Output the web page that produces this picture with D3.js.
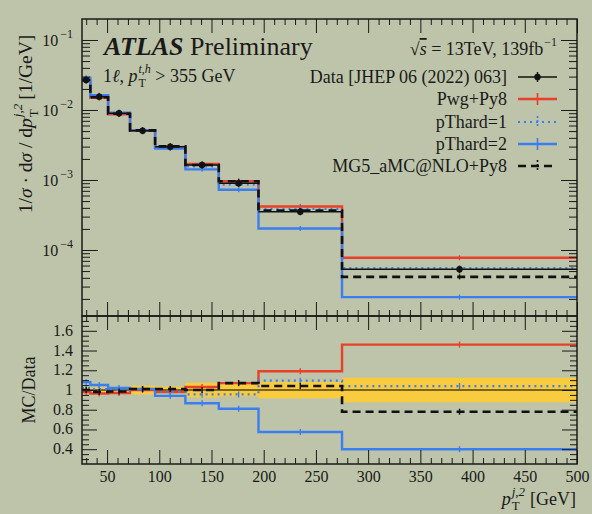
<!DOCTYPE html>
<html><head><meta charset="utf-8">
<script src="https://cdn.jsdelivr.net/npm/d3@7"></script>
<style>
body{margin:0;background:#bdc4a9;}
svg{display:block;}
text{font-family:"Liberation Serif","DejaVu Serif",serif;fill:#1a1a1a;white-space:pre;}
</style>
</head><body><svg id="c" width="592" height="514"></svg>
<script>
// ---------------- data ----------------
const binEdges = [26, 34, 51, 72, 96, 125, 157, 195, 275, 500];
const dataValues = [0.0268, 0.0155, 0.00897, 0.00506, 0.00299, 0.00164, 0.000897, 0.000352, 0.000053];
const dataRelErr = [0.032, 0.025, 0.025, 0.045, 0.035, 0.074, 0.065, 0.085, 0.125];
const ratioPwgPy8 = [0.98, 0.965, 0.97, 1.0, 0.98, 1.03, 1.07, 1.19, 1.46];
const ratioPThard1 = [1.02, 1.01, 1.0, 1.01, 0.98, 0.955, 0.955, 1.095, 1.04];
const ratioPThard2 = [1.08, 1.05, 1.02, 1.01, 0.94, 0.865, 0.81, 0.575, 0.40];
const ratioMG5 = [1.0, 0.98, 0.985, 1.01, 1.01, 1.0, 1.07, 1.04, 0.78];
const xTickLabels = [50, 100, 150, 200, 250, 300, 350, 400, 450, 500];
const ratioTickLabels = [0.4, 0.6, 0.8, 1, 1.2, 1.4, 1.6];
const mainDecades = [1e-4, 1e-3, 1e-2, 1e-1];
const legendLabels = ["Data [JHEP 06 (2022) 063]", "Pwg+Py8", "pThard=1", "pThard=2", "MG5_aMC@NLO+Py8"];

// ---------------- styles ----------------
const RED = "#e8402a", BLUE = "#3b7ef0", GOLD = "#f9cb3e", INK = "#1a1a1a";
const series = [
  {name: legendLabels[1], ratio: ratioPwgPy8, color: RED, dash: null, w: 2.4},
  {name: legendLabels[2], ratio: ratioPThard1, color: BLUE, dash: "2,4", w: 2.2},
  {name: legendLabels[3], ratio: ratioPThard2, color: BLUE, dash: null, w: 2.4},
  {name: legendLabels[4], ratio: ratioMG5, color: "#111", dash: "8,5", w: 2.6}
];

const L = 82, R = 577, T = 19, MB = 316, RB = 464;
const svg = d3.select("#c");

const x = d3.scaleLinear().domain([26, 500]).range([L, R]);
const yMain = d3.scaleLog().domain([Math.pow(10, -4.943), Math.pow(10, -0.7)]).range([MB, T]);
const yRat = d3.scaleLinear().domain([0.25, 1.75]).range([RB, MB]);

const defs = svg.append("defs");
defs.append("clipPath").attr("id", "cm").append("rect").attr("x", L).attr("y", T).attr("width", R - L).attr("height", MB - T);
defs.append("clipPath").attr("id", "cr").append("rect").attr("x", L).attr("y", MB).attr("width", R - L).attr("height", RB - MB);

// ------------- rich text helper -------------
function rich(parent, x0, y0, parts, opts) {
  opts = opts || {};
  const base = opts.size || 16;
  const g = parent.append("g");
  let cx = 0;
  parts.forEach(p => {
    if (p.sup !== undefined || p.sub !== undefined) {
      let w = 0;
      const s = p.size || base * 0.68;
      const x0p = cx + (p.before || 0);
      if (p.sup) {
        const t = g.append("text").attr("x", x0p).attr("y", -base * 0.5).style("font-size", s + "px")
          .style("font-style", p.supItalic ? "italic" : null).text(p.sup);
        w = Math.max(w, t.node().getComputedTextLength());
      }
      if (p.sub) {
        const t = g.append("text").attr("x", x0p).attr("y", base * 0.3).style("font-size", s + "px")
          .style("font-style", p.subItalic ? "italic" : null).text(p.sub);
        w = Math.max(w, t.node().getComputedTextLength());
      }
      cx = x0p + w + (p.after || 0);
    } else {
      const t = g.append("text").attr("x", cx).attr("y", p.dy || 0)
        .style("font-size", (p.size || base) + "px")
        .style("font-style", p.italic ? "italic" : null)
        .style("font-weight", p.bold ? "bold" : null)
        .text(p.t);
      if (p.overline) t.style("text-decoration", "overline");
      cx += t.node().getComputedTextLength() + (p.after || 0);
    }
  });
  const total = cx;
  let shift = 0;
  if (opts.anchor === "end") shift = -total; else if (opts.anchor === "middle") shift = -total / 2;
  if (opts.rotate) g.attr("transform", `translate(${x0},${y0}) rotate(${opts.rotate}) translate(${shift},0)`);
  else g.attr("transform", `translate(${x0 + shift},${y0})`);
  return total;
}

// ------------- ratio panel band -------------
const gR = svg.append("g").attr("clip-path", "url(#cr)");
gR.selectAll("rect.band").data(dataValues).join("rect")
  .attr("x", (d, i) => x(binEdges[i]))
  .attr("width", (d, i) => x(binEdges[i + 1]) - x(binEdges[i]))
  .attr("y", (d, i) => yRat(1 + dataRelErr[i]))
  .attr("height", (d, i) => yRat(1 - dataRelErr[i]) - yRat(1 + dataRelErr[i]))
  .attr("fill", GOLD);

function stepPts(vals) {
  const pts = vals.map((v, i) => [binEdges[i], v]);
  pts.push([binEdges[binEdges.length - 1], vals[vals.length - 1]]);
  return pts;
}
const lineMain = d3.line().x(d => x(d[0])).y(d => yMain(d[1])).curve(d3.curveStepAfter);
const lineRat = d3.line().x(d => x(d[0])).y(d => yRat(d[1])).curve(d3.curveStepAfter);
const centers = binEdges.slice(0, -1).map((e, i) => (e + binEdges[i + 1]) / 2);

gR.append("path").attr("d", lineRat(stepPts(dataValues.map(() => 1))))
  .attr("fill", "none").attr("stroke", "#000").attr("stroke-opacity", 0.5).attr("stroke-width", 2);

// ------------- main panel -------------
const gM = svg.append("g").attr("clip-path", "url(#cm)");

series.forEach(s => {
  const mcVals = dataValues.map((d, i) => d * s.ratio[i]);
  gM.append("path").attr("d", lineMain(stepPts(mcVals)))
    .attr("fill", "none").attr("stroke", s.color).attr("stroke-width", s.w)
    .attr("stroke-dasharray", s.dash);
  gM.selectAll(null).data(mcVals).join("line")
    .attr("x1", (d, i) => x(centers[i])).attr("x2", (d, i) => x(centers[i]))
    .attr("y1", d => yMain(d) - 2.5).attr("y2", d => yMain(d) + 2.5)
    .attr("stroke", s.color).attr("stroke-width", 1.4);
  gR.append("path").attr("d", lineRat(stepPts(s.ratio)))
    .attr("fill", "none").attr("stroke", s.color).attr("stroke-width", s.w)
    .attr("stroke-dasharray", s.dash);
  gR.selectAll(null).data(s.ratio).join("line")
    .attr("x1", (d, i) => x(centers[i])).attr("x2", (d, i) => x(centers[i]))
    .attr("y1", d => yRat(d) - 3).attr("y2", d => yRat(d) + 3)
    .attr("stroke", s.color).attr("stroke-width", 1.4);
});

gM.selectAll("line.dx").data(dataValues).join("line")
  .attr("x1", (d, i) => x(binEdges[i])).attr("x2", (d, i) => x(binEdges[i + 1]))
  .attr("y1", d => yMain(d)).attr("y2", d => yMain(d))
  .attr("stroke", "#111").attr("stroke-width", 1.5);
gM.selectAll("line.dy").data(dataValues).join("line")
  .attr("x1", (d, i) => x(centers[i])).attr("x2", (d, i) => x(centers[i]))
  .attr("y1", (d, i) => Math.min(yMain(d * (1 + dataRelErr[i])), yMain(d) - 3.5))
  .attr("y2", (d, i) => Math.max(yMain(d * (1 - dataRelErr[i])), yMain(d) + 3.5))
  .attr("stroke", "#111").attr("stroke-width", 1.5);
gM.selectAll("circle.dp").data(dataValues).join("circle")
  .attr("cx", (d, i) => x(centers[i])).attr("cy", d => yMain(d)).attr("r", 3.2).attr("fill", "#111");

// ------------- axes -------------
const minorX = d3.range(30, 501, 10).filter(v => v % 50 !== 0);
function styleAxis(g) {
  g.select(".domain").remove();
  g.selectAll(".tick line").attr("stroke", INK).attr("stroke-width", 1);
}
svg.append("g").attr("transform", `translate(0,${MB})`).call(d3.axisBottom(x).tickValues(xTickLabels).tickSize(-14).tickFormat("")).call(styleAxis);
svg.append("g").attr("transform", `translate(0,${MB})`).call(d3.axisBottom(x).tickValues(minorX).tickSize(-6).tickFormat("")).call(styleAxis);
svg.append("g").attr("transform", `translate(0,${T})`).call(d3.axisTop(x).tickValues(xTickLabels).tickSize(-14).tickFormat("")).call(styleAxis);
svg.append("g").attr("transform", `translate(0,${T})`).call(d3.axisTop(x).tickValues(minorX).tickSize(-6).tickFormat("")).call(styleAxis);
svg.append("g").attr("transform", `translate(0,${MB})`).call(d3.axisTop(x).tickValues(xTickLabels).tickSize(-14).tickFormat("")).call(styleAxis);
svg.append("g").attr("transform", `translate(0,${MB})`).call(d3.axisTop(x).tickValues(minorX).tickSize(-6).tickFormat("")).call(styleAxis);
const xb = svg.append("g").attr("transform", `translate(0,${RB})`).call(d3.axisBottom(x).tickValues(xTickLabels).tickSize(-14).tickPadding(7).tickFormat(d3.format("d"))).call(styleAxis);
xb.selectAll("text").style("font-size", "16px").attr("fill", INK).style("font-family", '"Liberation Serif",serif');
svg.append("g").attr("transform", `translate(0,${RB})`).call(d3.axisBottom(x).tickValues(minorX).tickSize(-6).tickFormat("")).call(styleAxis);

const minorY = [];
for (let e = -5; e <= -1; e++) for (let k = 2; k <= 9; k++) {
  const v = k * Math.pow(10, e);
  if (v >= yMain.domain()[0] && v <= yMain.domain()[1]) minorY.push(v);
}
svg.append("g").attr("transform", `translate(${L},0)`).call(d3.axisLeft(yMain).tickValues(mainDecades).tickSize(-16).tickFormat("")).call(styleAxis);
svg.append("g").attr("transform", `translate(${L},0)`).call(d3.axisLeft(yMain).tickValues(minorY).tickSize(-8).tickFormat("")).call(styleAxis);
svg.append("g").attr("transform", `translate(${R},0)`).call(d3.axisRight(yMain).tickValues(mainDecades).tickSize(-16).tickFormat("")).call(styleAxis);
svg.append("g").attr("transform", `translate(${R},0)`).call(d3.axisRight(yMain).tickValues(minorY).tickSize(-8).tickFormat("")).call(styleAxis);
mainDecades.forEach(v => {
  const e = Math.round(Math.log10(v));
  rich(svg, 73, yMain(v) + 6, [{t: "10"}, {sup: "\u2212" + (-e), size: 12, before: 2}], {size: 16, anchor: "end"});
});

const minorR = d3.range(0.3, 1.75, 0.05).map(v => +v.toFixed(2)).filter(v => Math.abs(v * 5 - Math.round(v * 5)) > 1e-6);
svg.append("g").attr("transform", `translate(${L},0)`).call(d3.axisLeft(yRat).tickValues(ratioTickLabels).tickSize(-15).tickFormat("")).call(styleAxis);
svg.append("g").attr("transform", `translate(${L},0)`).call(d3.axisLeft(yRat).tickValues(minorR).tickSize(-7).tickFormat("")).call(styleAxis);
svg.append("g").attr("transform", `translate(${R},0)`).call(d3.axisRight(yRat).tickValues(ratioTickLabels).tickSize(-15).tickFormat("")).call(styleAxis);
svg.append("g").attr("transform", `translate(${R},0)`).call(d3.axisRight(yRat).tickValues(minorR).tickSize(-7).tickFormat("")).call(styleAxis);
svg.append("g").selectAll("text").data(ratioTickLabels).join("text")
  .attr("x", 73).attr("y", d => yRat(d) + 5).attr("text-anchor", "end").style("font-size", "16px")
  .text(d => d3.format("~g")(d));

svg.append("rect").attr("x", L).attr("y", T).attr("width", R - L).attr("height", MB - T).attr("fill", "none").attr("stroke", INK).attr("stroke-width", 1.5);
svg.append("rect").attr("x", L).attr("y", MB).attr("width", R - L).attr("height", RB - MB).attr("fill", "none").attr("stroke", INK).attr("stroke-width", 1.5);

// ------------- texts -------------
rich(svg, 104, 55, [{t: "ATLAS", bold: true, italic: true}, {t: "\u00a0Preliminary"}], {size: 26});
rich(svg, 103, 82, [{t: "1"}, {t: "\u2113", italic: true}, {t: ",\u00a0"}, {t: "p", italic: true, after: 1}, {sup: "t,h", sub: "T", supItalic: true, size: 12}, {t: "\u00a0>\u00a0355\u00a0GeV"}], {size: 18});
rich(svg, 557, 55, [{t: "\u221a"}, {t: "s", italic: true, overline: true}, {t: "\u00a0=\u00a013TeV,\u00a0139fb"}, {sup: "\u22121", size: 12, before: 1}], {size: 18, anchor: "end"});

rich(svg, 32, 124, [{t: "1/"}, {t: "\u03c3", italic: true}, {t: "\u00a0\u00b7\u00a0d"}, {t: "\u03c3", italic: true}, {t: "\u00a0/\u00a0d"}, {t: "p", italic: true, after: 1}, {sup: "j,2", sub: "T", supItalic: true, size: 13, after: 4}, {t: "[1/GeV]"}], {size: 19.5, anchor: "middle", rotate: -90});
rich(svg, 35, 390, [{t: "MC/Data"}], {size: 18, anchor: "middle", rotate: -90});
rich(svg, 576, 505, [{t: "p", italic: true, after: 1}, {sup: "j,2", sub: "T", supItalic: true, size: 13, after: 5}, {t: "[GeV]"}], {size: 18, anchor: "end"});

// ------------- legend -------------
const legRows = [77, 99, 122, 144, 166];
const lx1 = 518, lx2 = 557, lxc = 537.5;
const leg = svg.append("g");
legendLabels.forEach((lab, i) => {
  rich(leg, 507, legRows[i] + 6, [{t: lab}], {size: 18, anchor: "end"});
});
leg.append("line").attr("x1", lx1).attr("x2", lx2).attr("y1", legRows[0]).attr("y2", legRows[0]).attr("stroke", "#111").attr("stroke-width", 1.5);
leg.append("line").attr("x1", lxc).attr("x2", lxc).attr("y1", legRows[0] - 5).attr("y2", legRows[0] + 5).attr("stroke", "#111").attr("stroke-width", 1.5);
leg.append("circle").attr("cx", lxc).attr("cy", legRows[0]).attr("r", 3.2).attr("fill", "#111");
series.forEach((s, i) => {
  const yy = legRows[i + 1];
  leg.append("line").attr("x1", lx1).attr("x2", lx2).attr("y1", yy).attr("y2", yy)
    .attr("stroke", s.color).attr("stroke-width", s.w).attr("stroke-dasharray", s.dash);
  leg.append("line").attr("x1", lxc).attr("x2", lxc).attr("y1", yy - 6).attr("y2", yy + 6)
    .attr("stroke", s.color).attr("stroke-width", 1.6).attr("stroke-dasharray", s.dash ? "2,2" : null);
});
</script>
</body></html>
